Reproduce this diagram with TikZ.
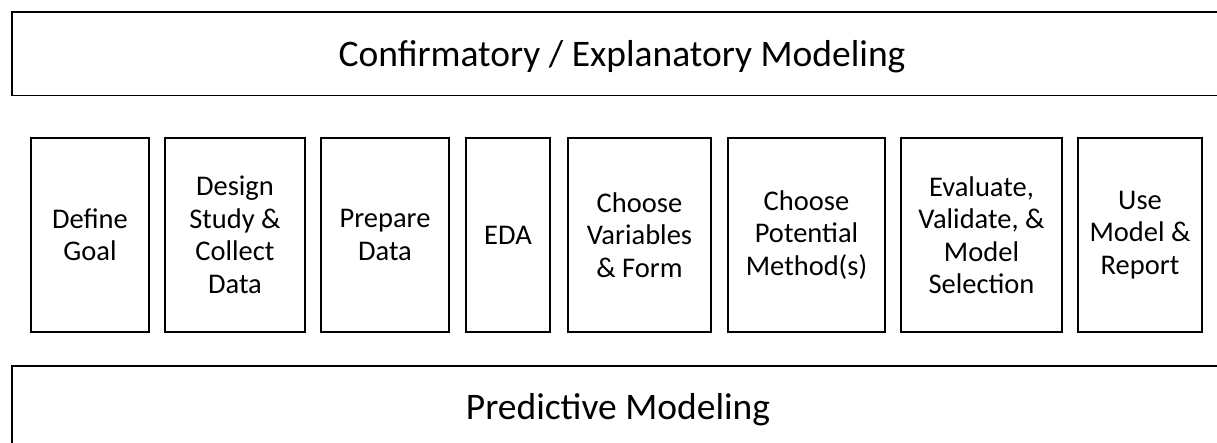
\documentclass[tikz,border=0pt]{standalone}
\usepackage{fontspec}
\setmainfont{Carlito}
\begin{document}
\begin{tikzpicture}[x=1pt,y=-1pt,
  stepbox/.style={draw=black,line width=1.8pt,align=center,font=\fontsize{28.5}{32.5}\selectfont,inner sep=0pt},
  band/.style={draw=black,line width=1.8pt},
  bandtext/.style={font=\fontsize{37.5}{42}\selectfont,inner sep=0pt}]
\useasboundingbox (0,0) rectangle (1217,443);
% top band (open to the right)
\draw[band] (1230,12) -- (12,12) -- (12,95.5) -- (1230,95.5);
\node[bandtext] (top) at (622,57) {Confirmatory / Explanatory Modeling};
% bottom band (open right and below)
\draw[band] (1230,366) -- (12,366) -- (12,460);
\node[bandtext] (bottom) at (618,410) {Predictive Modeling};
% step boxes
\newcommand{\stepnode}[4]{%
  \node[stepbox,minimum width=#3-#2,minimum height=194] (#1) at ({(#2+#3)/2},235) {#4};}
\stepnode{s1}{31}{149}{Define\\Goal}
\stepnode{s2}{165}{305}{Design\\Study \&\\Collect\\Data}
\stepnode{s3}{321}{449}{Prepare\\Data}
\stepnode{s4}{466}{550}{EDA}
\stepnode{s5}{568}{711}{Choose\\Variables\\\& Form}
\stepnode{s6}{728}{885}{Choose\\Potential\\Method(s)}
\stepnode{s7}{901}{1062}{Evaluate,\\Validate, \&\\Model\\Selection}
\stepnode{s8}{1078}{1202}{Use\\Model \&\\Report}
\end{tikzpicture}
\end{document}
